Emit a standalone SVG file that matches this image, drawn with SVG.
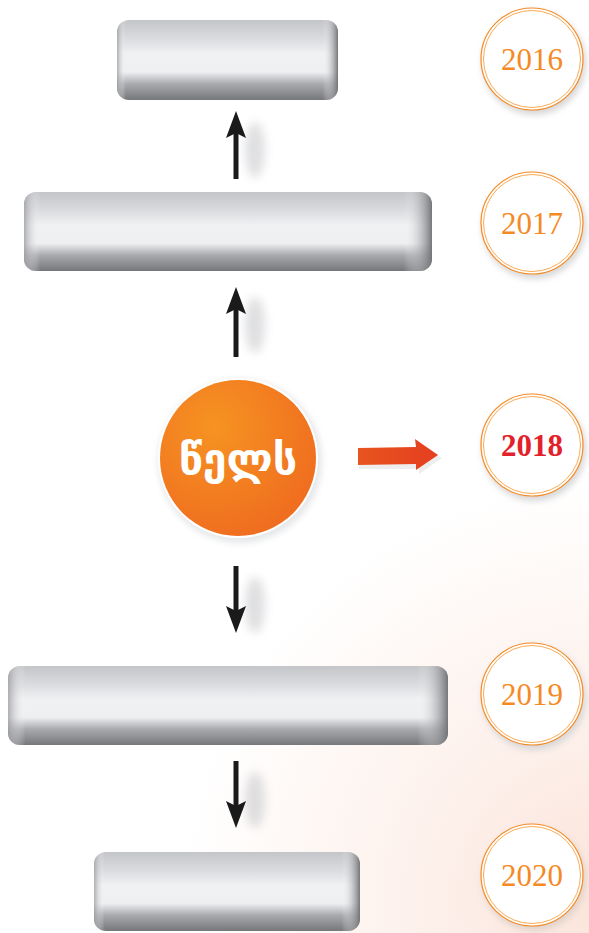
<svg xmlns="http://www.w3.org/2000/svg" width="589" height="933" viewBox="0 0 589 933">
<defs>
  <radialGradient id="bgGrad" cx="600" cy="900" r="420" gradientUnits="userSpaceOnUse">
    <stop offset="0" stop-color="#fbe4da"/>
    <stop offset="0.45" stop-color="#fdf1ec"/>
    <stop offset="1" stop-color="#ffffff"/>
  </radialGradient>
  <linearGradient id="boxV" x1="0" y1="0" x2="0" y2="1">
    <stop offset="0" stop-color="#c4c5c8"/>
    <stop offset="0.25" stop-color="#dcdde0"/>
    <stop offset="0.42" stop-color="#f0f1f3"/>
    <stop offset="0.65" stop-color="#eeeff1"/>
    <stop offset="0.8" stop-color="#a9aaae"/>
    <stop offset="1" stop-color="#76777b"/>
  </linearGradient>
  <linearGradient id="boxH" x1="0" y1="0" x2="1" y2="0">
    <stop offset="0" stop-color="#9d9ea2" stop-opacity="0.8"/>
    <stop offset="0.04" stop-color="#ffffff" stop-opacity="0"/>
    <stop offset="0.93" stop-color="#ffffff" stop-opacity="0"/>
    <stop offset="1" stop-color="#6f7074" stop-opacity="0.95"/>
  </linearGradient>
  <radialGradient id="orangeGrad" cx="0.35" cy="0.3" r="0.8">
    <stop offset="0" stop-color="#f69322"/>
    <stop offset="1" stop-color="#ef6a1f"/>
  </radialGradient>
  <linearGradient id="redArrow" x1="0" y1="0" x2="1" y2="0">
    <stop offset="0" stop-color="#e8541f"/>
    <stop offset="1" stop-color="#e53e20"/>
  </linearGradient>
  <filter id="blur" x="-50%" y="-50%" width="200%" height="200%">
    <feGaussianBlur stdDeviation="5"/>
  </filter>
  <filter id="soft" x="-20%" y="-20%" width="140%" height="140%">
    <feGaussianBlur stdDeviation="3"/>
  </filter>
</defs>
<style>
  .box { fill: url(#boxV); }
  .boxside { fill: url(#boxH); }
  .yr-ring { fill: #ffffff; stroke: #f58a25; stroke-width: 1.2; }
  .yr-ring2 { fill: none; stroke: #f7a040; stroke-width: 0.9; }
  .yr { font-family: "Liberation Serif", "DejaVu Serif", serif; font-size: 31px; fill: #f58a25; text-anchor: middle; }
  .yr-red { font-family: "Liberation Serif", "DejaVu Serif", serif; font-size: 31px; font-weight: bold; fill: #e3212b; text-anchor: middle; }
  .conn { stroke: #1a1a1a; stroke-width: 5; fill: none; }
  .head { fill: #1a1a1a; }
  .shadow { fill: #b8b9bd; opacity: 0.45; }
</style>
<rect x="0" y="0" width="589" height="933" fill="url(#bgGrad)"/>

<!-- Box nodes -->
<g id="box2016">
  <rect x="117" y="20" width="221" height="80" rx="12" class="box"/>
  <rect x="117" y="20" width="221" height="80" rx="12" class="boxside"/>
</g>
<g id="box2017">
  <rect x="24" y="192" width="408" height="79" rx="12" class="box"/>
  <rect x="24" y="192" width="408" height="79" rx="12" class="boxside"/>
</g>
<g id="box2019">
  <rect x="8" y="666" width="440" height="79" rx="12" class="box"/>
  <rect x="8" y="666" width="440" height="79" rx="12" class="boxside"/>
</g>
<g id="box2020">
  <rect x="94" y="852" width="266" height="79" rx="12" class="box"/>
  <rect x="94" y="852" width="266" height="79" rx="12" class="boxside"/>
</g>

<!-- Center node -->
<g id="center">
  <rect x="150" y="368" width="180" height="184" fill="#ffffff"/>
  <circle cx="240" cy="461" r="82" fill="#e6e7e9" filter="url(#soft)"/>
  <circle cx="238" cy="458" r="80" fill="#ffffff"/>
  <circle cx="238" cy="458" r="78" fill="url(#orangeGrad)"/>
  <text x="238" y="474" font-family="'DejaVu Sans', 'Noto Sans', sans-serif" font-size="43" font-weight="bold" fill="#ffffff" text-anchor="middle">წელს</text>
</g>

<!-- Year nodes -->
<g id="y2016">
  <circle cx="534" cy="63" r="52" fill="#d8d8d8" filter="url(#soft)"/>
  <circle cx="532" cy="59" r="51" class="yr-ring"/>
  <circle cx="532" cy="59" r="48.5" class="yr-ring2"/>
  <text x="532" y="70" class="yr">2016</text>
</g>
<g id="y2017">
  <circle cx="534" cy="227" r="52" fill="#d8d8d8" filter="url(#soft)"/>
  <circle cx="532" cy="223" r="51" class="yr-ring"/>
  <circle cx="532" cy="223" r="48.5" class="yr-ring2"/>
  <text x="532" y="234" class="yr">2017</text>
</g>
<g id="y2018">
  <circle cx="534" cy="449" r="52" fill="#d8d8d8" filter="url(#soft)"/>
  <circle cx="532" cy="445" r="51" class="yr-ring"/>
  <circle cx="532" cy="445" r="48.5" class="yr-ring2"/>
  <text x="532" y="456" class="yr-red">2018</text>
</g>
<g id="y2019">
  <circle cx="534" cy="698" r="52" fill="#d8d8d8" filter="url(#soft)"/>
  <circle cx="532" cy="694" r="51" class="yr-ring"/>
  <circle cx="532" cy="694" r="48.5" class="yr-ring2"/>
  <text x="532" y="705" class="yr">2019</text>
</g>
<g id="y2020">
  <circle cx="534" cy="879" r="52" fill="#e0d4cc" filter="url(#soft)"/>
  <circle cx="532" cy="875" r="51" class="yr-ring"/>
  <circle cx="532" cy="875" r="48.5" class="yr-ring2"/>
  <text x="532" y="886" class="yr">2020</text>
</g>

<!-- Connectors -->
<g id="connectors">
  <ellipse cx="255" cy="150" rx="10" ry="28" class="shadow" filter="url(#blur)"/>
  <ellipse cx="255" cy="325" rx="10" ry="28" class="shadow" filter="url(#blur)"/>
  <ellipse cx="255" cy="605" rx="10" ry="28" class="shadow" filter="url(#blur)"/>
  <ellipse cx="255" cy="800" rx="10" ry="28" class="shadow" filter="url(#blur)"/>
  <g>
    <line x1="236" y1="179" x2="236" y2="132" class="conn"/>
    <path d="M236,111 L246,138 L236,133 L226,138 Z" class="head"/>
  </g>
  <g>
    <line x1="236" y1="357" x2="236" y2="309" class="conn"/>
    <path d="M236,287 L246,314 L236,309 L226,314 Z" class="head"/>
  </g>
  <g>
    <line x1="236" y1="566" x2="236" y2="612" class="conn"/>
    <path d="M236,633 L246,606 L236,611 L226,606 Z" class="head"/>
  </g>
  <g>
    <line x1="236" y1="761" x2="236" y2="807" class="conn"/>
    <path d="M236,828 L246,801 L236,806 L226,801 Z" class="head"/>
  </g>
  <path d="M358,450 L418,449 L417,441 L441,456 L418,472 L418,467 L358,467 Z" fill="#eeeeee" transform="translate(1,2)"/>
  <path d="M358,448 L416,447 L415,439 L438,455 L416,470 L416,464 L358,465 Z" fill="url(#redArrow)"/>
</g>
</svg>
